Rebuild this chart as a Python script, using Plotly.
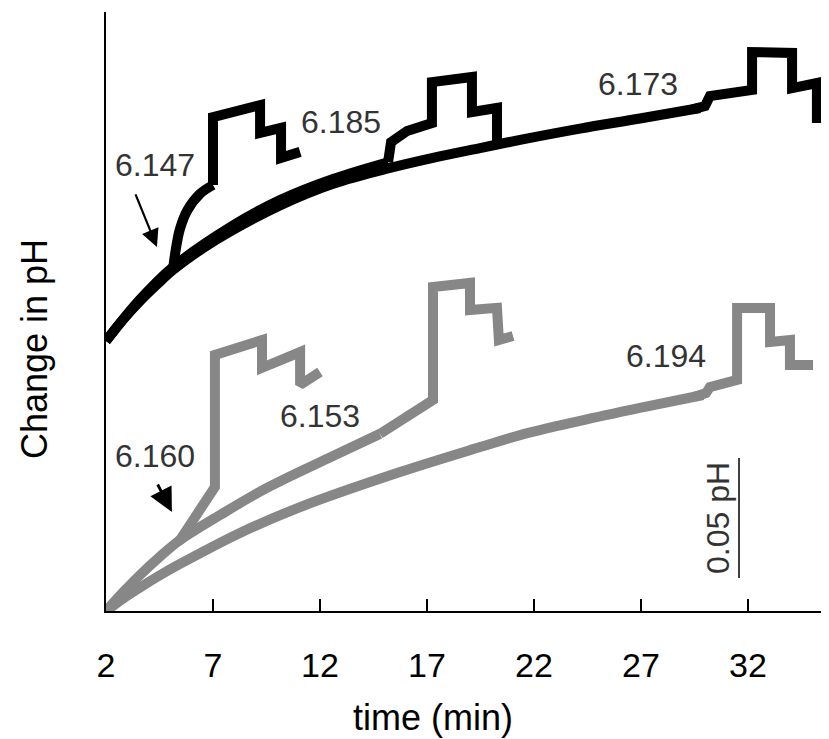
import plotly.graph_objects as go

# ---------------- data (time in min, change in pH) ----------------
# black group (upper) -- smooth parts
blk_ctrl_t = [2.00, 2.80, 3.59, 4.40, 5.13, 6.50, 7.93, 10.13, 12.61, 15.27, 17.28, 19.48, 21.35, 24.15, 26.95, 29.76]
blk_ctrl_y = [0.1125, 0.1215, 0.1292, 0.1362, 0.1421, 0.1510, 0.1588, 0.1690, 0.1780, 0.1846, 0.1888, 0.1929, 0.1963, 0.2010, 0.2052, 0.2096]

blk_6185_pre_t = [2.00, 3.59, 5.13, 7.93, 10.13, 12.61, 15.18]
blk_6185_pre_y = [0.1125, 0.1298, 0.1433, 0.1606, 0.1712, 0.1800, 0.1870]

blk_6147_pre_t = [5.13, 5.25, 5.45, 5.79, 6.39, 7.00]
blk_6147_pre_y = [0.1421, 0.1500, 0.1590, 0.1668, 0.1738, 0.1775]

# black group -- stepped parts (additions)
blk_6147_t = [7.00, 7.00, 9.20, 9.20, 10.18, 10.18, 11.07]
blk_6147_y = [0.1775, 0.2058, 0.2108, 0.1992, 0.2013, 0.1888, 0.1913]

blk_6185_t = [15.18, 15.32, 16.07, 17.23, 17.23, 19.10, 19.10, 20.27, 20.27]
blk_6185_y = [0.1870, 0.1954, 0.2000, 0.2033, 0.2204, 0.2225, 0.2079, 0.2096, 0.1935]

blk_6173_t = [29.40, 29.76, 29.99, 30.22, 32.19, 32.19, 34.06, 34.06, 35.22, 35.22, 35.74]
blk_6173_y = [0.2090, 0.2096, 0.2104, 0.2146, 0.2171, 0.2329, 0.2325, 0.2179, 0.2200, 0.2054, 0.2054]

# grey group (lower) -- smooth parts
gry_ctrl_t = [2.00, 2.80, 3.59, 4.50, 5.46, 8.26, 11.07, 15.74, 19.48, 21.35, 24.15, 26.95, 29.90]
gry_ctrl_y = [0.0000, 0.0052, 0.0098, 0.0148, 0.0196, 0.0325, 0.0433, 0.0579, 0.0683, 0.0733, 0.0792, 0.0846, 0.0900]

gry_6153_pre_t = [2.00, 2.80, 3.59, 4.50, 5.46, 7.33, 9.52, 12.61, 14.80]
gry_6153_pre_y = [0.0000, 0.0078, 0.0150, 0.0225, 0.0296, 0.0400, 0.0513, 0.0646, 0.0738]

# grey group -- stepped parts (additions)
gry_6153_t = [14.80, 15.08, 17.28, 17.28, 19.01, 19.01, 20.27, 20.36, 21.02]
gry_6153_y = [0.0738, 0.0754, 0.0879, 0.1350, 0.1367, 0.1254, 0.1263, 0.1129, 0.1146]

gry_6160_t = [5.35, 5.46, 7.09, 7.09, 9.29, 9.29, 11.07, 11.07, 12.00]
gry_6160_y = [0.0290, 0.0296, 0.0517, 0.1067, 0.1129, 0.1013, 0.1079, 0.0942, 0.0996]

gry_6194_t = [29.50, 29.90, 30.04, 30.22, 31.49, 31.49, 33.03, 33.03, 33.96, 33.96, 35.04]
gry_6194_y = [0.0893, 0.0900, 0.0908, 0.0933, 0.0963, 0.1263, 0.1263, 0.1121, 0.1129, 0.1025, 0.1025]

tick_vals = [2, 7, 12, 17, 22, 27, 32]
tick_text = ["2", "7", "12", "17", "22", "27", "32"]

scale_bar_value = 0.05
scale_bar_base = 0.01375
scale_bar_t = 31.58

# ---------------- figure ----------------
BLACK = "#000000"
GREY = "#878787"
LW = 10
FONT = "Liberation Sans, Arial, sans-serif"

fig = go.Figure()

def add(t, y, color, shape):
    fig.add_trace(go.Scatter(x=t, y=y, mode="lines",
                             line=dict(color=color, width=LW, shape=shape,
                                       smoothing=1.0 if shape == "spline" else None),
                             showlegend=False))

for t, y in [(gry_ctrl_t, gry_ctrl_y), (gry_6153_pre_t, gry_6153_pre_y)]:
    add(t, y, GREY, "spline")
for t, y in [(gry_6153_t, gry_6153_y), (gry_6160_t, gry_6160_y), (gry_6194_t, gry_6194_y)]:
    add(t, y, GREY, "linear")
for t, y in [(blk_ctrl_t, blk_ctrl_y), (blk_6185_pre_t, blk_6185_pre_y),
             (blk_6147_pre_t, blk_6147_pre_y)]:
    add(t, y, BLACK, "spline")
for t, y in [(blk_6147_t, blk_6147_y), (blk_6185_t, blk_6185_y), (blk_6173_t, blk_6173_y)]:
    add(t, y, BLACK, "linear")

labels = [("6.147", 4.29, 0.1858), ("6.185", 12.98, 0.2038), ("6.173", 26.86, 0.2196),
          ("6.160", 4.29, 0.0646), ("6.153", 12.0, 0.0813), ("6.194", 28.17, 0.1063)]
for txt, x, y in labels:
    fig.add_annotation(x=x, y=y, text=txt, showarrow=False,
                       font=dict(family=FONT, size=32, color="#333333"),
                       xanchor="center", yanchor="middle")

# arrows
fig.add_annotation(x=4.38, y=0.1517, ax=-22, ay=-54, text="", showarrow=True,
                   arrowhead=2, arrowsize=1.6, arrowwidth=2.2, arrowcolor=BLACK)
fig.add_annotation(x=5.08, y=0.04125, ax=-15, ay=-29, text="", showarrow=True,
                   arrowhead=2, arrowsize=1.7, arrowwidth=2.8, arrowcolor=BLACK)

# scale bar
fig.add_shape(type="line", x0=scale_bar_t, x1=scale_bar_t,
              y0=scale_bar_base, y1=scale_bar_base + scale_bar_value,
              line=dict(color=BLACK, width=1.5))
fig.add_annotation(x=30.6, y=scale_bar_base + scale_bar_value / 2, text="0.05 pH",
                   showarrow=False, textangle=-90,
                   font=dict(family=FONT, size=32, color="#333333"),
                   xanchor="center", yanchor="middle")

# axis titles
fig.add_annotation(xref="x", yref="paper", x=17.3, y=-0.1786, text="time (min)",
                   showarrow=False, font=dict(family=FONT, size=36, color=BLACK),
                   xanchor="center", yanchor="middle")
fig.add_annotation(xref="paper", yref="paper", x=-0.098, y=0.4375, text="Change in pH",
                   showarrow=False, textangle=-90,
                   font=dict(family=FONT, size=36, color=BLACK),
                   xanchor="center", yanchor="middle")

# page offset of the plot div is 8px (body margin), so size/margins compensate
fig.update_layout(
    width=821, height=731,
    margin=dict(l=98, r=0, t=4, b=128),
    paper_bgcolor="white", plot_bgcolor="white",
    xaxis=dict(range=[2, 2 + 723 / 21.4], tickvals=tick_vals, ticktext=tick_text,
               ticks="inside", ticklen=12, tickwidth=1.5, tickcolor=BLACK,
               showline=True, linecolor=BLACK, linewidth=1.5,
               showgrid=False, zeroline=False, ticklabelstandoff=23,
               tickfont=dict(family=FONT, size=34, color=BLACK)),
    yaxis=dict(range=[0, 599 / 2400], showticklabels=False, ticks="",
               showline=True, linecolor=BLACK, linewidth=1.5,
               showgrid=False, zeroline=False),
)

fig.write_html("out.html")
